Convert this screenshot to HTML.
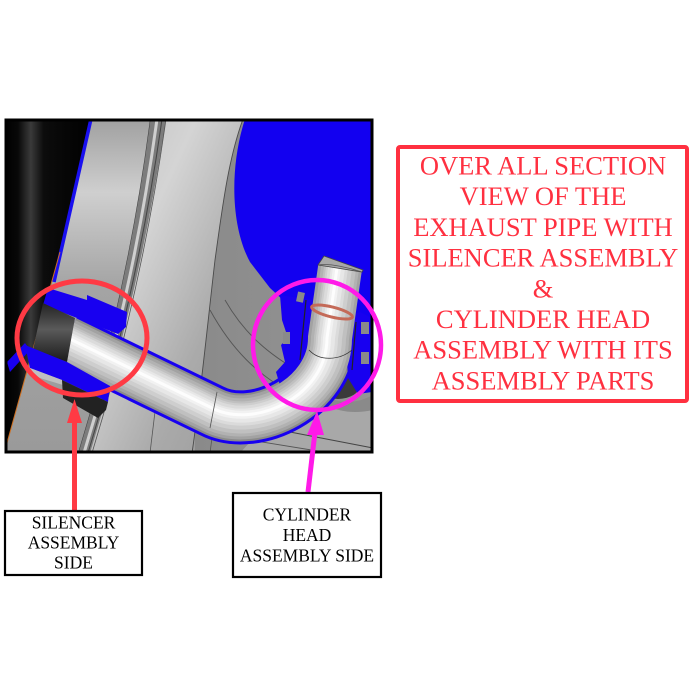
<!DOCTYPE html>
<html><head><meta charset="utf-8"><style>
html,body{margin:0;padding:0;background:#fff;}
body{width:700px;height:700px;overflow:hidden;position:relative;}
svg{position:absolute;left:0;top:0;}
.serif{font-family:"Liberation Serif","Times New Roman",serif;}
</style></head><body>
<svg width="700" height="700" viewBox="0 0 700 700" xmlns="http://www.w3.org/2000/svg">
<defs>
<linearGradient id="blk" x1="0" y1="0" x2="1" y2="0">
<stop offset="0" stop-color="#000"/><stop offset="0.15" stop-color="#080808"/><stop offset="0.3" stop-color="#3a3a3a"/><stop offset="0.45" stop-color="#0c0c0c"/><stop offset="1" stop-color="#000"/>
</linearGradient>
<linearGradient id="b1" x1="0" y1="0" x2="0" y2="1">
<stop offset="0" stop-color="#a0a0a0"/><stop offset="0.22" stop-color="#cfcfcf"/><stop offset="0.5" stop-color="#a4a4a4"/><stop offset="1" stop-color="#9a9a9a"/>
</linearGradient>
<linearGradient id="b2" x1="0" y1="0" x2="1" y2="1">
<stop offset="0" stop-color="#bdbdbd"/><stop offset="0.35" stop-color="#d4d4d4"/><stop offset="0.7" stop-color="#aaaaaa"/><stop offset="1" stop-color="#9c9c9c"/>
</linearGradient>
<linearGradient id="ring" x1="0" y1="0" x2="1" y2="0">
<stop offset="0" stop-color="#8a8a8a"/><stop offset="1" stop-color="#959595"/>
</linearGradient>
<linearGradient id="sil" x1="0" y1="0" x2="0" y2="1">
<stop offset="0" stop-color="#222"/><stop offset="0.45" stop-color="#5a5a5a"/><stop offset="1" stop-color="#1a1a1a"/>
</linearGradient>
</defs>

<!-- frame background -->
<rect x="5" y="119" width="368" height="334" fill="#9c9c9c"/>
<rect x="195" y="119" width="178" height="334" fill="url(#ring)"/>
<!-- blue circle -->
<path d="M245,119 C230,165 230,225 250,262 L270,288 L283,300 L300,318 L373,322 L373,119 Z" fill="#1200f0"/>
<path d="M236,119 C222,170 214,230 206,300" stroke="#505050" stroke-width="0.9" fill="none"/>
<path d="M225,300 C245,335 270,355 300,372" stroke="#555" stroke-width="0.9" fill="none"/>
<path d="M210,310 C232,350 258,375 290,392" stroke="#555" stroke-width="0.9" fill="none"/>
<!-- lower right region -->
<path d="M270,420 L373,400 L373,453 L240,453 Z" fill="#a8a8a8"/>
<path d="M290,432 L373,448" stroke="#444" stroke-width="0.9"/>
<path d="M250,440 L330,453" stroke="#555" stroke-width="0.9"/>
<ellipse cx="338" cy="385" rx="22" ry="14" fill="#3a3a3a"/>
<path d="M330,398 C345,405 360,402 373,395 L373,410 C355,414 340,412 325,405 Z" fill="#8a8a8a"/>

<!-- band 2 -->
<path d="M165,119 L243,119 C228,160 222,210 215,260 C208,320 200,400 192,453 L88,453 Q142,290 165,119 Z" fill="url(#b2)"/>
<path d="M243,119 C228,160 222,210 215,260 C208,320 200,400 192,453" stroke="#4a4a4a" stroke-width="0.9" fill="none"/>
<!-- groove -->
<path d="M150,119 Q128,290 78,453 L90,453 Q140,290 166,119 Z" fill="#7c7c7c"/>
<path d="M157,119 Q134,290 84,453" stroke="#cfcfcf" stroke-width="3" fill="none"/>
<path d="M150,119 Q128,290 78,453" stroke="#3c3c3c" stroke-width="1" fill="none"/>
<path d="M162,119 Q138,290 88,453" stroke="#444" stroke-width="1" fill="none"/>
<path d="M166,119 Q142,290 92,453" stroke="#555" stroke-width="0.8" fill="none"/>
<!-- band 1 -->
<path d="M91,119 L150,119 Q128,290 78,453 L5,453 L7,443 L60,252 Z" fill="url(#b1)"/>
<!-- black region -->
<path d="M5,119 L91,119 L56,275 L60,252 L7,443 L5,453 Z" fill="url(#blk)"/>
<path d="M91,119 L54,282" stroke="#1a10f0" stroke-width="3.5"/>
<path d="M60,252 L7,443" stroke="#d07020" stroke-width="1"/>
<path d="M157,395 L150,453" stroke="#555" stroke-width="0.8"/>
<path d="M213,430 L210,453" stroke="#555" stroke-width="0.8"/>

<!-- pipe outline (blue) -->
<path d="M66,340 L212,411 C255,433 330,396 330,338" stroke="#1800f0" stroke-width="54" fill="none"/>
<path d="M66,340 L212,411 C255,433 330,396 330,338" stroke="#8a8a8a" stroke-width="48" fill="none"/>
<!-- left flange (blue) -->
<path d="M280,295 L312,300 L314,350 L300,378 L282,392 L276,372 L285,362 L281,345 L288,338 L282,320 Z" fill="#1800f0"/>
<rect x="297" y="292" width="7" height="10" fill="#8a8a8a" transform="rotate(12 300 297)"/>
<rect x="283" y="332" width="7" height="12" fill="#8a8a8a"/>
<!-- right flange (blue) -->
<path d="M348,316 L360,312 L372,318 L372,392 L358,394 L348,378 L346,345 Z" fill="#1800f0"/>
<rect x="361" y="322" width="8" height="12" fill="#8a8a8a"/>
<rect x="361" y="352" width="8" height="12" fill="#8a8a8a"/>
<!-- pipe body (layered shading) -->
<g fill="none">
<path d="M66,340 L212,411 C255,433 330,396 330,338 L340,268" stroke="#a2a2a2" stroke-width="44"/>
<path d="M66,340 L212,411 C255,433 330,396 330,338 L340,268" stroke="#b2b2b2" stroke-width="38"/>
<path d="M66,340 L212,411 C255,433 330,396 330,338 L340,268" stroke="#c0c0c0" stroke-width="32"/>
<path d="M66,339 L212,410 C255,432 329,396 329,338 L339,268" stroke="#cecece" stroke-width="26"/>
<path d="M66,338 L212,409 C255,431 328,396 328,338 L338,268" stroke="#dbdbdb" stroke-width="20"/>
<path d="M66,338 L212,409 C255,431 328,396 328,338 L338,268" stroke="#e7e7e7" stroke-width="14"/>
<path d="M66,337 L212,408 C255,430 327,396 327,338 L337,268" stroke="#f2f2f2" stroke-width="8"/>
<path d="M66,337 L212,408 C255,430 327,396 327,338 L337,268" stroke="#fdfdfd" stroke-width="3"/>
</g>
<path d="M217,392 L210,428" stroke="#555" stroke-width="0.8"/>
<!-- vertical pipe top cap -->
<path d="M318,265 L324,256 L363,270 L362,272 Z" fill="#a8a8a8" stroke="#444" stroke-width="0.8"/>
<path d="M318,265 C330,263 350,268 362,272" stroke="#555" stroke-width="0.8" fill="none"/>
<ellipse cx="332" cy="312" rx="21" ry="5" transform="rotate(14 332 312)" fill="none" stroke="#c46a58" stroke-width="3"/>
<path d="M309,350 C320,362 340,360 352,350" stroke="#333" stroke-width="0.8" fill="none"/>
<path d="M306,300 L300,360" stroke="#222" stroke-width="1.2"/>
<path d="M356,322 L352,370" stroke="#222" stroke-width="1.2"/>

<!-- silencer parts -->
<path d="M48,288 L87,300 L87,295 L127,312 L126,327 L118,334 L100,327 L77,318 L43,305 Z" fill="#1800f0"/>
<path d="M43,303 L75,318 L67,362 L33,350 Z" fill="url(#sil)"/>
<path d="M25,345 L67,362 L110,386 L108,402 L62,380 L30,368 Z" fill="#1800f0"/>
<path d="M30,368 L62,380 L63,385 L30,375 Z" fill="#c0c0c0"/>
<path d="M62,380 L108,402 L106,410 L98,418 L63,398 Z" fill="#222"/>
<path d="M7,362 L25,343 L30,350 L10,372 Z" fill="#1800f0"/>

<!-- frame border -->
<rect x="6" y="120" width="366" height="332" fill="none" stroke="#000" stroke-width="3"/>

<!-- ellipses -->
<ellipse cx="82" cy="338" rx="65" ry="57" fill="none" stroke="#ff3a44" stroke-width="5"/>
<ellipse cx="317" cy="345" rx="64" ry="65" fill="none" stroke="#ff1ae8" stroke-width="4.5"/>

<!-- red arrow -->
<line x1="74.5" y1="418" x2="74.5" y2="510" stroke="#ff3a44" stroke-width="5"/>
<polygon points="74.5,399 67,423 82,423" fill="#ff3a44"/>
<!-- magenta arrow -->
<line x1="315" y1="432" x2="308" y2="492" stroke="#ff1ae8" stroke-width="5"/>
<polygon points="317,411 307,435 324,435" fill="#ff1ae8"/>

<!-- title box -->
<rect x="398" y="147" width="289" height="254" rx="2" fill="#fff" stroke="#ff3040" stroke-width="4"/>
<g class="serif" style="font-family:'Liberation Serif','Times New Roman',serif;font-size:26.5px" fill="#ff3040" text-anchor="middle">
<text x="543" y="174.5">OVER ALL SECTION</text>
<text x="543" y="205.2">VIEW OF THE</text>
<text x="543" y="235.9">EXHAUST PIPE WITH</text>
<text x="543" y="266.6">SILENCER ASSEMBLY</text>
<text x="543" y="297.3">&amp;</text>
<text x="543" y="328">CYLINDER HEAD</text>
<text x="543" y="358.7">ASSEMBLY WITH ITS</text>
<text x="543" y="389.4">ASSEMBLY PARTS</text>
</g>

<!-- label boxes -->
<rect x="5" y="511" width="137" height="64" fill="#fff" stroke="#000" stroke-width="2.2"/>
<g class="serif" style="font-family:'Liberation Serif','Times New Roman',serif;font-size:17.5px" fill="#000" text-anchor="middle">
<text x="73.5" y="528.6">SILENCER</text>
<text x="73.5" y="548.6">ASSEMBLY</text>
<text x="73.5" y="568.6">SIDE</text>
</g>
<rect x="233" y="493" width="148" height="84" fill="#fff" stroke="#000" stroke-width="2.2"/>
<g class="serif" style="font-family:'Liberation Serif','Times New Roman',serif;font-size:17.5px" fill="#000" text-anchor="middle">
<text x="307" y="520.6">CYLINDER</text>
<text x="307" y="541">HEAD</text>
<text x="307" y="561.5">ASSEMBLY SIDE</text>
</g>
</svg>
</body></html>
